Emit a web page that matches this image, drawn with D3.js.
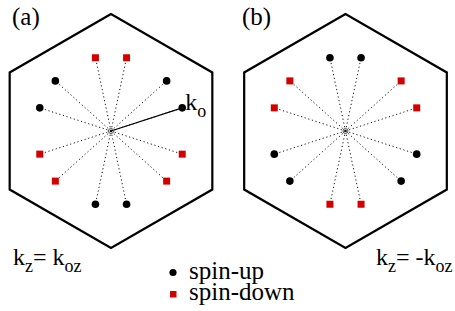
<!DOCTYPE html>
<html>
<head>
<meta charset="utf-8">
<script src="https://cdn.jsdelivr.net/npm/d3@7"></script>
<style>
  body { margin: 0; background: #fff; }
</style>
</head>
<body>
<svg id="chart" width="455" height="311"></svg>
<script>
// angles (deg) of the k points, hexagon vertices and sizes in BZ units
const hexAngles = [90, 150, 210, 270, 330, 30]
const kRadius = 0.64
const upAnglesA = [18, 42, 138, 162, 258, 282]
const downAnglesA = [78, 102, 198, 222, 318, 342]
const upAnglesB = [78, 102, 198, 222, 318, 342]
const downAnglesB = [18, 42, 138, 162, 258, 282]
const panelNames = ['(a)', '(b)']
const kzLabels = [['k', 'z', '= k', 'oz'], ['k', 'z', '= -k', 'oz']]
const legendLabels = ['spin-up', 'spin-down']

const red = '#d40000'
const serif = 'Liberation Serif'
const svg = d3.select('#chart')

const panels = [
  { cx: 111, cy: 131, up: upAnglesA, down: downAnglesA, name: panelNames[0], kz: kzLabels[0], kzX: 13, nameX: 12 },
  { cx: 345.5, cy: 131, up: upAnglesB, down: downAnglesB, name: panelNames[1], kz: kzLabels[1], kzX: 376, nameX: 242 }
]

const rad = (a) => a * Math.PI / 180

panels.forEach((p, pi) => {
  const x = d3.scaleLinear().domain([-1, 1]).range([p.cx - 117, p.cx + 117])
  const y = d3.scaleLinear().domain([-1, 1]).range([p.cy + 117, p.cy - 117])
  const g = svg.append('g')

  const hex = hexAngles.map((a) => [x(Math.cos(rad(a))), y(Math.sin(rad(a)))])
  g.append('path')
    .attr('d', d3.line()(hex) + 'Z')
    .attr('fill', 'none')
    .attr('stroke', '#000')
    .attr('stroke-width', 2.2)
    .attr('stroke-linejoin', 'miter')

  const pts = p.up.map((a) => ({ a, s: 'up' })).concat(p.down.map((a) => ({ a, s: 'down' })))
  pts.forEach((d) => {
    d.px = x(kRadius * Math.cos(rad(d.a)))
    d.py = y(kRadius * Math.sin(rad(d.a)))
  })

  g.selectAll('line.ray')
    .data(pts)
    .enter()
    .append('line')
    .attr('class', 'ray')
    .attr('x1', x(0))
    .attr('y1', y(0))
    .attr('x2', (d) => d.px)
    .attr('y2', (d) => d.py)
    .attr('stroke', '#111')
    .attr('stroke-width', 1)
    .attr('stroke-dasharray', '1.2,2.6')

  // k_o vector in panel (a)
  if (pi === 0) {
    const ko = pts.find((d) => d.a === 18)
    g.append('line')
      .attr('x1', x(0)).attr('y1', y(0))
      .attr('x2', ko.px).attr('y2', ko.py)
      .attr('stroke', '#000')
      .attr('stroke-width', 1.2)
    const t = g.append('text')
      .attr('x', ko.px + 3)
      .attr('y', ko.py + 2)
      .style('font-family', serif)
      .style('font-size', '24px')
    t.append('tspan').text('k')
    t.append('tspan').attr('dy', 7).style('font-size', '18px').text('o')
  }

  g.append('circle')
    .attr('cx', x(0)).attr('cy', y(0)).attr('r', 2.5)
    .attr('fill', 'none').attr('stroke', '#555').attr('stroke-width', 1)

  g.selectAll('circle.up')
    .data(pts.filter((d) => d.s === 'up'))
    .enter()
    .append('circle')
    .attr('class', 'up')
    .attr('cx', (d) => d.px)
    .attr('cy', (d) => d.py)
    .attr('r', 3.8)
    .attr('fill', '#000')

  g.selectAll('rect.down')
    .data(pts.filter((d) => d.s === 'down'))
    .enter()
    .append('rect')
    .attr('class', 'down')
    .attr('x', (d) => d.px - 3.5)
    .attr('y', (d) => d.py - 3.5)
    .attr('width', 7)
    .attr('height', 7)
    .attr('fill', red)

  svg.append('text')
    .attr('x', p.nameX)
    .attr('y', 25)
    .style('font-family', serif)
    .style('font-size', '25px')
    .text(p.name)

  const kz = svg.append('text')
    .attr('x', p.kzX)
    .attr('y', 265)
    .style('font-family', serif)
    .style('font-size', '24px')
  kz.append('tspan').text(p.kz[0])
  kz.append('tspan').attr('dy', 7).style('font-size', '18px').text(p.kz[1])
  kz.append('tspan').attr('dy', -7).text(p.kz[2])
  kz.append('tspan').attr('dy', 7).style('font-size', '18px').text(p.kz[3])
})

// legend
svg.append('circle').attr('cx', 173).attr('cy', 272.5).attr('r', 3.6).attr('fill', '#000')
svg.append('rect').attr('x', 170).attr('y', 291).attr('width', 6.5).attr('height', 6.5).attr('fill', red)
svg.selectAll('text.legend')
  .data(legendLabels)
  .enter()
  .append('text')
  .attr('class', 'legend')
  .attr('x', 189)
  .attr('y', (_, i) => 279 + i * 21)
  .style('font-family', serif)
  .style('font-size', '25px')
  .text((d) => d)
</script>
</body>
</html>
